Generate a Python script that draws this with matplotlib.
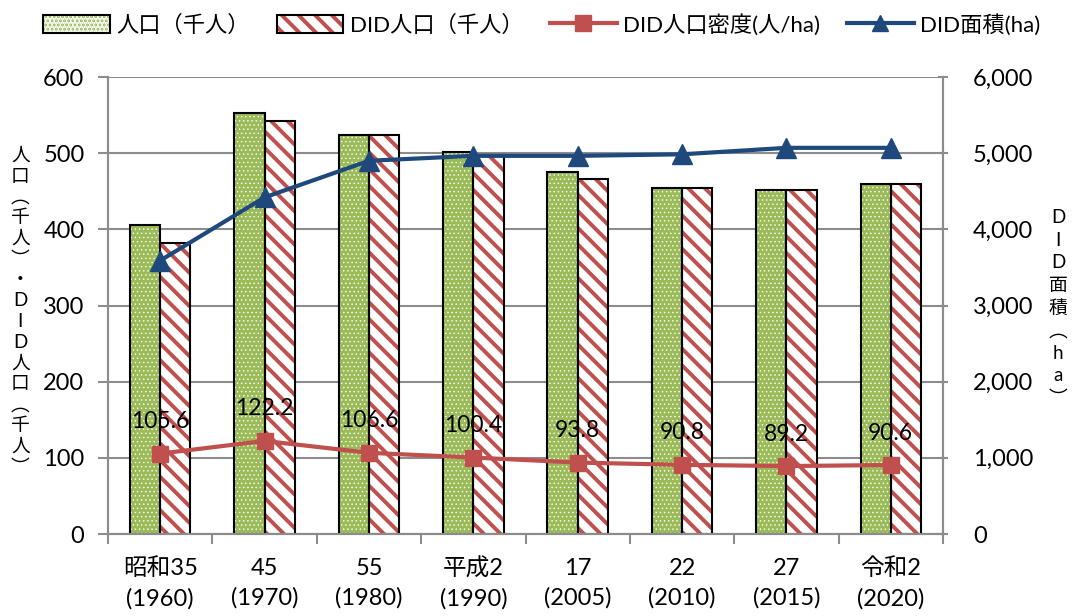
import matplotlib
matplotlib.use("Agg")
import matplotlib.pyplot as plt
from matplotlib.lines import Line2D
from matplotlib.patches import Patch
import numpy as np

plt.rcParams['font.family'] = ['Lato', 'Noto Sans CJK JP', 'DejaVu Sans']
plt.rcParams['hatch.linewidth'] = 2.8

# Data
categories = ["昭和35\n(1960)", "45\n(1970)", "55\n(1980)", "平成2\n(1990)",
              "17\n(2005)", "22\n(2010)", "27\n(2015)", "令和2\n(2020)"]
population = [406, 553, 524, 501, 475, 454, 452, 460]          # 千人
did_population = [382, 542, 524, 498, 466, 454, 452, 460]      # 千人
did_density = [105.6, 122.2, 106.6, 100.4, 93.8, 90.8, 89.2, 90.6]  # 人/ha
did_area = [3590, 4420, 4900, 4965, 4965, 4985, 5070, 5070]    # ha

legend_labels = ["人口（千人）", "DID人口（千人）", "DID人口密度(人/ha)", "DID面積(ha)"]
left_label = "人口︵千人︶・DID人口︵千人︶"
right_label = "DID面積︵ha︶"

green = "#9BBB59"
red = "#C0504D"
blue = "#1F497D"
grid_gray = "#8C8C8C"
axis_gray = "#8C8C8C"


def set_hatch_lw(patches, lw):
    for p in patches:
        if hasattr(p, "set_hatch_linewidth"):
            p.set_hatch_linewidth(lw)


fig = plt.figure(figsize=(10.73, 6.16), dpi=100)
ax = fig.add_axes([0.1007, 0.1331, 0.7781, 0.7419])
ax2 = ax.twinx()

x = np.arange(len(categories))
w = 0.29

# population bars: green with white dot pattern
b1 = ax.bar(x - w / 2, population, w, color=green, edgecolor="white",
            hatch="....", linewidth=0, zorder=2)
set_hatch_lw(b1, 0.5)
ax.bar(x - w / 2, population, w, fill=False, edgecolor="black", linewidth=1.5, zorder=3)

# DID population bars: white with red diagonal stripes
b2 = ax.bar(x + w / 2, did_population, w, color="white", edgecolor=red,
            hatch="\\\\", linewidth=0, zorder=2)
set_hatch_lw(b2, 2.8)
ax.bar(x + w / 2, did_population, w, fill=False, edgecolor="black", linewidth=1.5, zorder=3)

# density line on the left axis
ax.plot(x, did_density, color=red, lw=3, marker="s", markersize=11, zorder=5)
for xi, v in zip(x, did_density):
    ax.annotate(f"{v:.1f}", (xi, v), xytext=(0, 23), textcoords="offset points",
                ha="center", va="center", fontsize=16.5, color="black", zorder=6)

# DID area line on the right axis
ax2.plot(x, did_area, color=blue, lw=3, marker="^", markersize=14, zorder=5)

ax.set_xlim(-0.5, len(categories) - 0.5)
ax.set_ylim(0, 600)
ax.set_yticks(np.arange(0, 601, 100))
ax2.set_ylim(0, 6000)
ax2.set_yticks(np.arange(0, 6001, 1000))
ax2.set_yticklabels([f"{v:,}" for v in range(0, 6001, 1000)])

ax.set_xticks(x)
ax.set_xticklabels(categories, fontsize=17, linespacing=1.5)
ax.set_xticks(np.arange(-0.5, len(categories), 1), minor=True)
ax.tick_params(axis="x", which="major", length=0, pad=17)
ax.tick_params(axis="x", which="minor", length=7, width=1.5, color=axis_gray, direction="out")
ax.tick_params(axis="y", length=7, width=1.5, color=axis_gray, direction="out", labelsize=17, pad=10)
ax2.tick_params(axis="y", length=7, width=1.5, color=axis_gray, direction="inout", labelsize=17, pad=18)

ax.yaxis.grid(True, color=grid_gray, lw=1.5, zorder=0)
ax.set_axisbelow(True)

for a in (ax, ax2):
    a.spines["top"].set_visible(False)
    for s in ("left", "right", "bottom"):
        a.spines[s].set_color(axis_gray)
        a.spines[s].set_linewidth(1.5)

ax2.patch.set_visible(False)

# stacked vertical axis titles
fig.text(0.019, 0.495, "\n".join(left_label), ha="center", va="center",
         fontsize=13.5, linespacing=1.27)
fig.text(0.986, 0.50, "\n".join(right_label), ha="center", va="center",
         fontsize=13.5, linespacing=1.4)

handles = [
    (Patch(facecolor=green, edgecolor="white", hatch="....", linewidth=0),
     Patch(fill=False, edgecolor="black", linewidth=1.5)),
    (Patch(facecolor="white", edgecolor=red, hatch="\\\\", linewidth=0),
     Patch(fill=False, edgecolor="black", linewidth=1.5)),
    Line2D([], [], color=red, lw=3, marker="s", markersize=11),
    Line2D([], [], color=blue, lw=3, marker="^", markersize=12),
]
set_hatch_lw([handles[0][0]], 0.5)
set_hatch_lw([handles[1][0]], 2.8)
fig.legend(handles, legend_labels, loc="upper center", bbox_to_anchor=(0.505, 1.01),
           ncol=4, frameon=False, fontsize=16, handlelength=3.0, handleheight=0.9,
           columnspacing=1.2, handletextpad=0.3)

fig.savefig("out.png", dpi=100)
